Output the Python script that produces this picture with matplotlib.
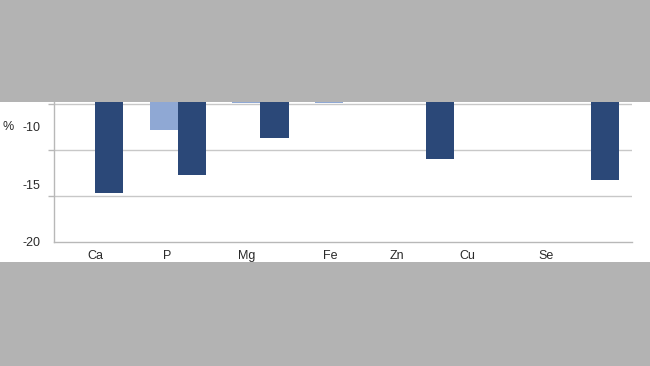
import matplotlib
matplotlib.use("Agg")
import matplotlib.pyplot as plt
import numpy as np
from matplotlib.patches import Rectangle
from matplotlib.transforms import blended_transform_factory

categories = ["Ca", "P", "Mg", "Fe", "Zn", "Cu", "Se"]
series_light = [0.0, -10.26, -7.9, -7.9, 0.0, 0.0, 0.0]
series_dark = [-15.7, -14.2, -11.0, 0.0, -12.76, 0.0, -14.6]
ytick_values = [-10, -15, -20]
grid_values = [-8, -12, -16, -20]
# label positions as they appear in the reference (index units)
label_pos = [0.0, 0.87, 1.83, 2.84, 3.65, 4.51, 5.46]

LIGHT = "#8fa8d4"
DARK = "#2b4878"
GRAYBG = "#b3b3b3"
TXT = "#2a2a2a"

plt.rcParams['font.family'] = ['Liberation Sans', 'DejaVu Sans']

fig = plt.figure(figsize=(6.5, 3.66), dpi=100)
fig.patch.set_facecolor("white")
ax = fig.add_axes([54/650, 1-242/366, 578/650, 140/366])
ax.set_facecolor("white")

x = np.arange(len(categories))
w = 0.34
ax.bar(x - 0.17, series_light, width=w, color=LIGHT, zorder=3)
ax.bar(x + 0.17, series_dark, width=w, color=DARK, zorder=3)

ax.set_xlim(-0.5, len(categories) - 0.5)
ax.set_ylim(-20, -7.83)

ax.set_yticks(ytick_values)
ax.set_yticklabels([str(v) for v in ytick_values])
ax.tick_params(axis='y', which='major', length=0, pad=10, labelsize=9, labelcolor=TXT)
ax.set_yticks(grid_values, minor=True)
ax.tick_params(axis='y', which='minor', length=4, width=1, color="#b8b8b8", direction='out')
ax.yaxis.grid(True, which='minor', color="#c8c8c8", linewidth=1, zorder=0)
ax.yaxis.grid(False, which='major')

ax.set_xticks(label_pos)
ax.set_xticklabels(categories)
ax.tick_params(axis='x', length=0, pad=6, labelsize=9, labelcolor=TXT)

for s in ['top', 'right']:
    ax.spines[s].set_visible(False)
for s in ['left', 'bottom']:
    ax.spines[s].set_color("#b8b8b8")
    ax.spines[s].set_linewidth(1)

tr = blended_transform_factory(ax.transAxes, ax.transData)
ax.text(-0.079, -10, "%", transform=tr, ha='center', va='center',
        fontsize=9, color=TXT)

# gray bands framing the visible white panel
fig.patches.append(Rectangle((0, 1-102/366), 1, 102/366, transform=fig.transFigure,
                             facecolor=GRAYBG, edgecolor='none', zorder=10))
fig.patches.append(Rectangle((0, 0), 1, 104/366, transform=fig.transFigure,
                             facecolor=GRAYBG, edgecolor='none', zorder=10))

fig.savefig("out.png", dpi=100, facecolor=fig.get_facecolor())
